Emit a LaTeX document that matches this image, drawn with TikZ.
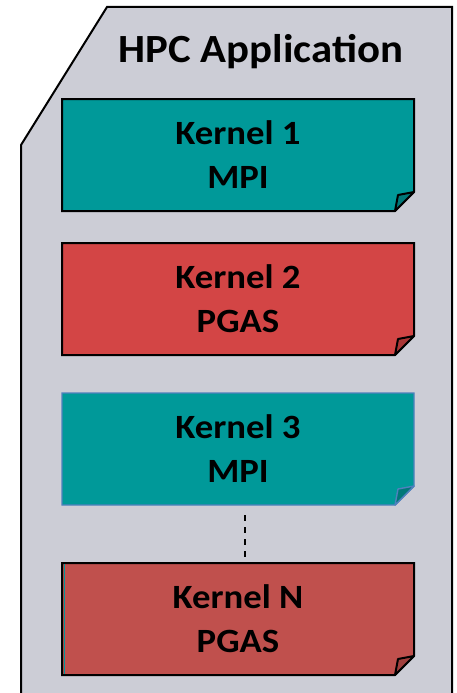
\documentclass[tikz,border=0pt]{standalone}
\usepackage{fontspec}
\setmainfont{Carlito}
\definecolor{appgray}{RGB}{204,205,214}
\definecolor{mpiteal}{RGB}{0,153,153}
\definecolor{mpifold}{RGB}{0,120,120}
\definecolor{pgasred}{RGB}{211,69,69}
\definecolor{pgasredfold}{RGB}{170,55,55}
\definecolor{pgasbrick}{RGB}{192,80,77}
\definecolor{pgasbrickfold}{RGB}{160,64,62}
\definecolor{outlineblue}{RGB}{79,129,189}
\tikzset{
  ktext/.style={font=\bfseries\fontsize{34}{44}\selectfont, align=center, text=black,
    xscale=1.08, transform shape},
  titletext/.style={font=\bfseries\fontsize{40}{44}\selectfont, text=black,
    xscale=1.07, transform shape},
}
% kernel card with a curled bottom-right corner
% #1 name, #2 top y, #3 fill, #4 fold fill, #5 line colour, #6 line width
\newcommand{\kernelcard}[6]{%
  \filldraw[fill=#3, draw=#5, line width=#6, line join=miter]
    (62,#2) -- (414,#2) -- (414,#2+93) -- (395,#2+112) -- (62,#2+112) -- cycle;
  \filldraw[fill=#4, draw=#5, line width=#6, line join=round]
    (395,#2+112) -- (398,#2+96) -- (414,#2+93) -- cycle;
  \coordinate (#1) at (238,#2+56);
  \coordinate (#1-top) at (245,#2);
  \coordinate (#1-bot) at (245,#2+112);
}
\begin{document}
\begin{tikzpicture}[x=1pt,y=-1pt]
  \useasboundingbox (0,0) rectangle (456,693);
  \clip (0,0) rectangle (456,693);
  % application container with a clipped top-left corner
  \filldraw[fill=appgray, draw=black, line width=2pt]
    (107,7) -- (452,7) -- (452,705) -- (21,705) -- (21,145) -- cycle;
  \node[titletext] (title) at (261,52) {HPC Application};

  \kernelcard{k1}{99}{mpiteal}{mpifold}{black}{2pt}
  \node[ktext] (k1text) at (k1) {Kernel 1\\MPI};

  \kernelcard{k2}{243}{pgasred}{pgasredfold}{black}{2pt}
  \node[ktext] (k2text) at (k2) {Kernel 2\\PGAS};

  \kernelcard{k3}{393}{mpiteal}{mpifold}{outlineblue}{1.4pt}
  \node[ktext] (k3text) at (k3) {Kernel 3\\MPI};

  \kernelcard{kn}{563}{pgasbrick}{pgasbrickfold}{black}{2pt}
  \draw[mpiteal, line width=1pt] (64.5,564) -- (64.5,674);
  \node[ktext] (kntext) at (kn) {Kernel N\\PGAS};

  % elision between kernel 3 and kernel N
  \draw[black, line width=2pt, dash pattern=on 6pt off 6pt] ([yshift=-10pt]k3-bot) -- (kn-top);
\end{tikzpicture}
\end{document}
